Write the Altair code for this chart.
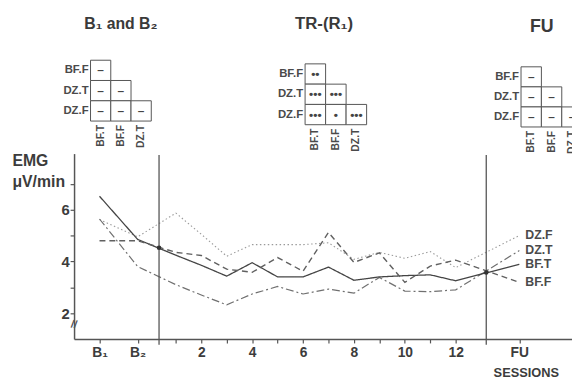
import altair as alt
import pandas as pd

# ---------------- data ----------------
sessions = ["B1", "B2", "1", "2", "3", "4", "5", "6", "7", "8", "9", "10", "11", "12", "FU"]
session_pos = [-2.0, -0.5, 1, 2, 3, 4, 5, 6, 7, 8, 9, 10, 11, 12, 14.5]

bf_t = [6.52, 4.85, 4.24, 3.85, 3.43, 3.95, 3.40, 3.40, 3.78, 3.27, 3.40, 3.45, 3.48, 3.25, 3.89]
bf_f = [4.80, 4.80, 4.35, 4.23, 3.70, 3.58, 4.15, 3.62, 5.12, 3.96, 4.33, 3.19, 3.82, 4.05, 3.19]
dz_t = [5.64, 3.80, 3.10, 2.70, 2.32, 2.74, 3.03, 2.74, 2.93, 2.77, 3.38, 2.85, 2.83, 2.90, 4.42]
dz_f = [5.62, 4.95, 5.87, 5.05, 4.20, 4.65, 4.65, 4.65, 4.72, 4.08, 4.35, 4.12, 4.38, 3.76, 5.00]

series_names = ["DZ.F", "DZ.T", "BF.T", "BF.F"]
series_values = [dz_f, dz_t, bf_t, bf_f]

phase_bounds = [0.34, 13.2]          # phase separators on the session axis
bound_marks = [4.53, 3.57]           # dots where BF.T crosses the separators

x_tick_values = [-2, -0.5, 1, 2, 3, 4, 5, 6, 7, 8, 9, 10, 11, 12, 14.5]
x_tick_labels = ["B₁", "B₂", "", "2", "", "4", "", "6", "", "8", "", "10", "", "12", "FU"]
y_tick_values = [2, 3, 4, 5, 6, 7]

# significance matrices
m_rows = ["BF.F", "DZ.T", "DZ.F"]
m_cols = ["BF.T", "BF.F", "DZ.T"]
b_symbols = [["–"], ["–", "–"], ["–", "–", "–"]]
tr_symbols = [["••"], ["•••", "•••"], ["•••", "•", "•••"]]
fu_symbols = [["–"], ["–", "–"], ["–", "–", "–"]]
panel_titles = ["B₁ and B₂", "TR-(R₁)", "FU"]

# ---------------- styling ----------------
FONT = "Liberation Sans"
INK = "#3c3c3c"
dash_range = [[1.5, 2.5], [8, 3, 2, 3], [1, 0], [6, 4]]
color_range = ["#9a9a9a", "#707070", "#444444", "#606060"]
width_range = [1.1, 1.4, 2.2, 1.8]

rows = []
for name, vals in zip(series_names, series_values):
    for s, p, v in zip(sessions, session_pos, vals):
        rows.append({"series": name, "session": s, "pos": p, "value": v})
df = pd.DataFrame(rows)

label_expr = ""
for v, l in zip(x_tick_values, x_tick_labels):
    label_expr += f"abs(datum.value - ({v})) < 0.01 ? '{l}' : "
label_expr += "''"

x_scale = alt.Scale(domain=[-3, 16.57], nice=False, zero=False)
y_scale = alt.Scale(domain=[1, 8.17], nice=False, zero=False)

x_axis = alt.Axis(
    values=x_tick_values, labelExpr=label_expr, grid=False,
    domainColor="#555", domainWidth=1.5, tickColor="#555", tickSize=4, tickWidth=1.2,
    labelFont=FONT, labelFontSize=14, labelFontWeight="bold", labelColor=INK,
    labelPadding=3, labelFlush=False, labelOverlap=False, labelBound=False,
    title="SESSIONS", titleX=425, titleY=38, titleAlign="left", titleBaseline="alphabetic",
    titleFont=FONT, titleFontSize=13, titleFontWeight="bold", titleColor=INK,
)
y_axis = alt.Axis(
    values=y_tick_values, labelExpr="datum.value % 2 == 0 ? datum.label : ''", grid=False,
    domainColor="#555", domainWidth=1.5, tickColor="#555", tickSize=4, tickWidth=1.2,
    labelFont=FONT, labelFontSize=15, labelFontWeight="bold", labelColor=INK, labelPadding=1,
    labelOverlap=False,
    title=["EMG", "μV/min"], titleAngle=0, titleAlign="left", titleBaseline="alphabetic",
    titleX=-63, titleY=12, titleLineHeight=21,
    titleFont=FONT, titleFontSize=16, titleFontWeight="bold", titleColor=INK,
)


def X(field=None, **kw):
    return alt.X(field, scale=x_scale, axis=x_axis, **kw) if field else alt.X(scale=x_scale, axis=x_axis, **kw)


def Y(field=None, **kw):
    return alt.Y(field, scale=y_scale, axis=y_axis, **kw) if field else alt.Y(scale=y_scale, axis=y_axis, **kw)


lines = alt.Chart(df).mark_line().encode(
    x=X("pos:Q"),
    y=Y("value:Q"),
    detail="series:N",
    strokeDash=alt.StrokeDash("series:N", scale=alt.Scale(domain=series_names, range=dash_range), legend=None),
    color=alt.Color("series:N", scale=alt.Scale(domain=series_names, range=color_range), legend=None),
    strokeWidth=alt.StrokeWidth("series:N", scale=alt.Scale(domain=series_names, range=width_range), legend=None),
)

rules = alt.Chart(pd.DataFrame({"pos": phase_bounds})).mark_rule(color="#555", strokeWidth=1.3).encode(
    x=X("pos:Q"), y=Y(datum=8.12), y2=alt.Y2(datum=0.78)
)

dots = alt.Chart(pd.DataFrame({"pos": phase_bounds, "value": bound_marks})).mark_point(
    filled=True, size=22, color="#333", opacity=1
).encode(x=X("pos:Q"), y=Y("value:Q"))

end_labels = alt.Chart(df[df["session"] == "FU"]).mark_text(
    align="left", baseline="middle", dx=6, font=FONT, fontSize=12.5, fontWeight="bold", color="#4a4a4a"
).encode(x=X("pos:Q"), y=Y("value:Q"), text="series:N")

axis_break = alt.Chart(pd.DataFrame({"t": ["//"]})).mark_text(
    font=FONT, fontSize=11, fontWeight="bold", color="#555", angle=10
).encode(x=X(datum=-3), y=Y(datum=1.55), text="t:N")

main = alt.layer(lines, rules, dots, end_labels, axis_break)


def panel(symbols, title, xr, yr, title_dx, title_dy, title_size):
    cells = []
    for i, r in enumerate(m_rows):
        for j in range(i + 1):
            cells.append({"row": r, "col": m_cols[j], "sym": symbols[i][j]})
    cells = pd.DataFrame(cells)
    xs = alt.Scale(domain=m_cols, range=xr, paddingInner=0, paddingOuter=0)
    ys = alt.Scale(domain=m_rows, range=yr, paddingInner=0, paddingOuter=0)

    rect = alt.Chart(cells).mark_rect(fill="white", stroke="#555", strokeWidth=1).encode(
        x=alt.X("col:N", scale=xs, axis=None), y=alt.Y("row:N", scale=ys, axis=None)
    )
    syms = alt.Chart(cells).mark_text(
        font=FONT, fontSize=12, fontWeight="bold", color="#444", baseline="middle"
    ).encode(x=alt.X("col:N", scale=xs, axis=None), y=alt.Y("row:N", scale=ys, axis=None), text="sym:N")
    rlab = alt.Chart(pd.DataFrame({"row": m_rows, "col": [m_cols[0]] * 3})).mark_text(
        align="right", baseline="middle", dx=-2, font=FONT, fontSize=11.5, fontWeight="bold", color="#4a4a4a"
    ).encode(x=alt.X("col:N", scale=xs, axis=None, bandPosition=0),
             y=alt.Y("row:N", scale=ys, axis=None), text="row:N")
    clab = alt.Chart(pd.DataFrame({"col": m_cols, "row": [m_rows[-1]] * 3})).mark_text(
        align="right", baseline="middle", angle=270, dx=-4, font=FONT, fontSize=10.5, fontWeight="bold",
        color="#4a4a4a"
    ).encode(x=alt.X("col:N", scale=xs, axis=None),
             y=alt.Y("row:N", scale=ys, axis=None, bandPosition=1), text="col:N")
    ttl = alt.Chart(pd.DataFrame({"col": [m_cols[1]], "row": [m_rows[0]], "t": [title]})).mark_text(
        align="center", baseline="middle", dx=title_dx, dy=title_dy, font=FONT, fontSize=title_size,
        fontWeight="bold", color="#3a3a3a"
    ).encode(x=alt.X("col:N", scale=xs, axis=None),
             y=alt.Y("row:N", scale=ys, axis=None, bandPosition=0), text="t:N")
    return alt.layer(rect, syms, rlab, clab, ttl)


p1 = panel(b_symbols, panel_titles[0], [16.7, 78.3], [-94.7, -33.0], 0, -37, 16)
p2 = panel(tr_symbols, panel_titles[1], [234.3, 296.7], [-91.0, -29.3], -12, -40, 17)
p3 = panel(fu_symbols, panel_titles[2], [453.3, 515.3], [-88.0, -27.0], -10, -40, 18)

chart = alt.layer(main, p1, p2, p3).resolve_scale(
    x="independent", y="independent"
).properties(
    width=505, height=188,
    padding={"left": 67, "top": 145, "right": 0, "bottom": 42},
    autosize=alt.AutoSizeParams(type="none"),
).configure_view(stroke=None).configure_axis(labelOverlap=False)

chart.save("out.html", embed_options={"renderer": "svg", "actions": False})
